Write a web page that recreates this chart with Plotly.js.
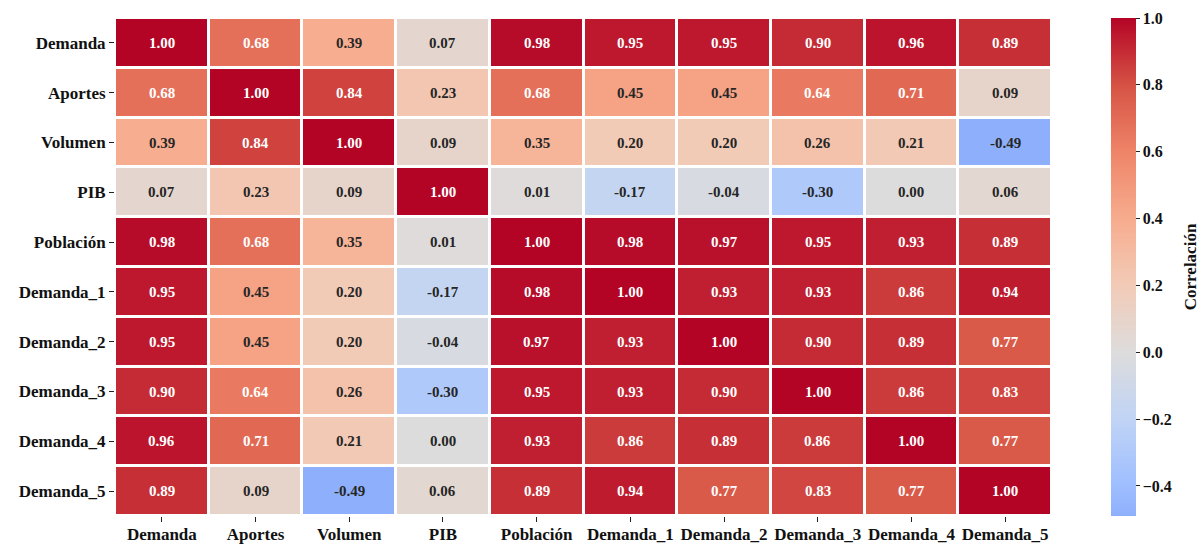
<!DOCTYPE html>
<html>
<head>
<meta charset="utf-8">
<script src="https://cdn.plot.ly/plotly-3.0.1.min.js"></script>
<style>
  html, body { margin: 0; padding: 0; background: #ffffff; }
  #chart { width: 1200px; height: 544px; }
</style>
</head>
<body>
<div id="chart"></div>
<script>
// Variable names (same order on both axes)
const variables = ["Demanda", "Aportes", "Volumen", "PIB", "Población",
                   "Demanda_1", "Demanda_2", "Demanda_3", "Demanda_4", "Demanda_5"];

// Correlation matrix, one row per variable
const rowDemanda   = [1.00, 0.68, 0.39, 0.07, 0.98, 0.95, 0.95, 0.90, 0.96, 0.89];
const rowAportes   = [0.68, 1.00, 0.84, 0.23, 0.68, 0.45, 0.45, 0.64, 0.71, 0.09];
const rowVolumen   = [0.39, 0.84, 1.00, 0.09, 0.35, 0.20, 0.20, 0.26, 0.21, -0.49];
const rowPIB       = [0.07, 0.23, 0.09, 1.00, 0.01, -0.17, -0.04, -0.30, 0.00, 0.06];
const rowPoblacion = [0.98, 0.68, 0.35, 0.01, 1.00, 0.98, 0.97, 0.95, 0.93, 0.89];
const rowDemanda1  = [0.95, 0.45, 0.20, -0.17, 0.98, 1.00, 0.93, 0.93, 0.86, 0.94];
const rowDemanda2  = [0.95, 0.45, 0.20, -0.04, 0.97, 0.93, 1.00, 0.90, 0.89, 0.77];
const rowDemanda3  = [0.90, 0.64, 0.26, -0.30, 0.95, 0.93, 0.90, 1.00, 0.86, 0.83];
const rowDemanda4  = [0.96, 0.71, 0.21, 0.00, 0.93, 0.86, 0.89, 0.86, 1.00, 0.77];
const rowDemanda5  = [0.89, 0.09, -0.49, 0.06, 0.89, 0.94, 0.77, 0.83, 0.77, 1.00];

const matrix = [rowDemanda, rowAportes, rowVolumen, rowPIB, rowPoblacion,
                rowDemanda1, rowDemanda2, rowDemanda3, rowDemanda4, rowDemanda5];

const colorbarTitle = "Correlación";

// Colour scale: diverging "coolwarm" centred on 0 over [-1, 1],
// cropped to the range actually present in the data.
const coolwarm = [
  [0.0, "#3b4cc0"], [0.1, "#5977e3"], [0.2, "#7b9ff9"], [0.3, "#9ebeff"],
  [0.4, "#c0d4f5"], [0.5, "#dddcdc"], [0.6, "#f2cbb7"], [0.7, "#f7ac8e"],
  [0.8, "#ee8468"], [0.9, "#d65244"], [1.0, "#b40426"]
];

function hexToRgb(h) {
  return [parseInt(h.slice(1, 3), 16), parseInt(h.slice(3, 5), 16), parseInt(h.slice(5, 7), 16)];
}
function coolwarmAt(t) {
  for (let k = 0; k < coolwarm.length - 1; k++) {
    const [t0, c0] = coolwarm[k], [t1, c1] = coolwarm[k + 1];
    if (t >= t0 && t <= t1) {
      const f = (t - t0) / (t1 - t0);
      const a = hexToRgb(c0), b = hexToRgb(c1);
      return a.map((v, i) => v + (b[i] - v) * f);
    }
  }
  return hexToRgb(t < 0.5 ? coolwarm[0][1] : coolwarm[coolwarm.length - 1][1]);
}
const rgbStr = c => "rgb(" + c.map(v => Math.round(v)).join(",") + ")";

const allValues = matrix.flat();
const zmin = Math.min(...allValues);
const zmax = Math.max(...allValues);
const tOf = v => (v + 1) / 2;               // value -> position on the full [-1, 1] map
const pOf = v => (v - zmin) / (zmax - zmin); // value -> position on the plotted range

const colorscale = [[0, rgbStr(coolwarmAt(tOf(zmin)))]];
coolwarm.forEach(([t, c]) => {
  const v = 2 * t - 1;
  if (v > zmin && v <= zmax) colorscale.push([pOf(v), c]);
});
if (colorscale[colorscale.length - 1][0] < 1) colorscale.push([1, rgbStr(coolwarmAt(tOf(zmax)))]);

// Text colour: dark on light cells, white on dark cells
function luminance(c) {
  const lin = c.map(v => {
    v /= 255;
    return v <= 0.03928 ? v / 12.92 : Math.pow((v + 0.055) / 1.055, 2.4);
  });
  return 0.2126 * lin[0] + 0.7152 * lin[1] + 0.0722 * lin[2];
}

const serif = "Liberation Serif, Times New Roman, serif";

const annotations = [];
matrix.forEach((row, i) => {
  row.forEach((v, j) => {
    const lum = luminance(coolwarmAt(tOf(v)));
    annotations.push({
      x: variables[j], y: variables[i], xref: "x", yref: "y",
      text: v.toFixed(2), showarrow: false,
      font: { family: serif, size: 15, weight: "bold", color: lum > 0.408 ? "#262626" : "#ffffff" }
    });
  });
});

// Colour bar label, set a little away from the tick labels
annotations.push({
  text: colorbarTitle, xref: "paper", yref: "paper",
  x: 1.1475, y: 0.5, xanchor: "center", yanchor: "middle",
  textangle: -90, showarrow: false,
  font: { family: serif, size: 17, weight: "bold", color: "#111" }
});

const trace = {
  type: "heatmap",
  x: variables,
  y: variables,
  z: matrix,
  zmin: zmin,
  zmax: zmax,
  colorscale: colorscale,
  xgap: 3,
  ygap: 3,
  hoverinfo: "skip",
  colorbar: {
    x: 1.0635, xanchor: "left", xref: "paper",
    y: 0.5, yanchor: "middle",
    len: 1, lenmode: "fraction",
    thickness: 25, thicknessmode: "pixels",
    xpad: 0, ypad: 0,
    outlinewidth: 0,
    ticks: "outside", ticklen: 4, tickwidth: 1, tickcolor: "#222",
    tick0: 0, dtick: 0.2, tickformat: ".1f",
    tickfont: { family: serif, size: 16, weight: "bold", color: "#111" }
  }
};

const layout = {
  width: 1200, height: 544,
  margin: { l: 115, r: 148, t: 18, b: 28 },
  paper_bgcolor: "#ffffff",
  plot_bgcolor: "#ffffff",
  xaxis: {
    type: "category", showgrid: false, zeroline: false, showline: false,
    ticks: "outside", ticklen: 5, tickwidth: 1, tickcolor: "#222",
    ticklabelstandoff: -2,
    tickfont: { family: serif, size: 17, weight: "bold", color: "#111" },
    automargin: false
  },
  yaxis: {
    type: "category", autorange: "reversed", showgrid: false, zeroline: false, showline: false,
    ticks: "outside", ticklen: 5, tickwidth: 1, tickcolor: "#222",
    tickfont: { family: serif, size: 17, weight: "bold", color: "#111" },
    automargin: false
  },
  annotations: annotations,
  showlegend: false
};

Plotly.newPlot("chart", [trace], layout, { displayModeBar: false, staticPlot: true });
</script>
</body>
</html>
